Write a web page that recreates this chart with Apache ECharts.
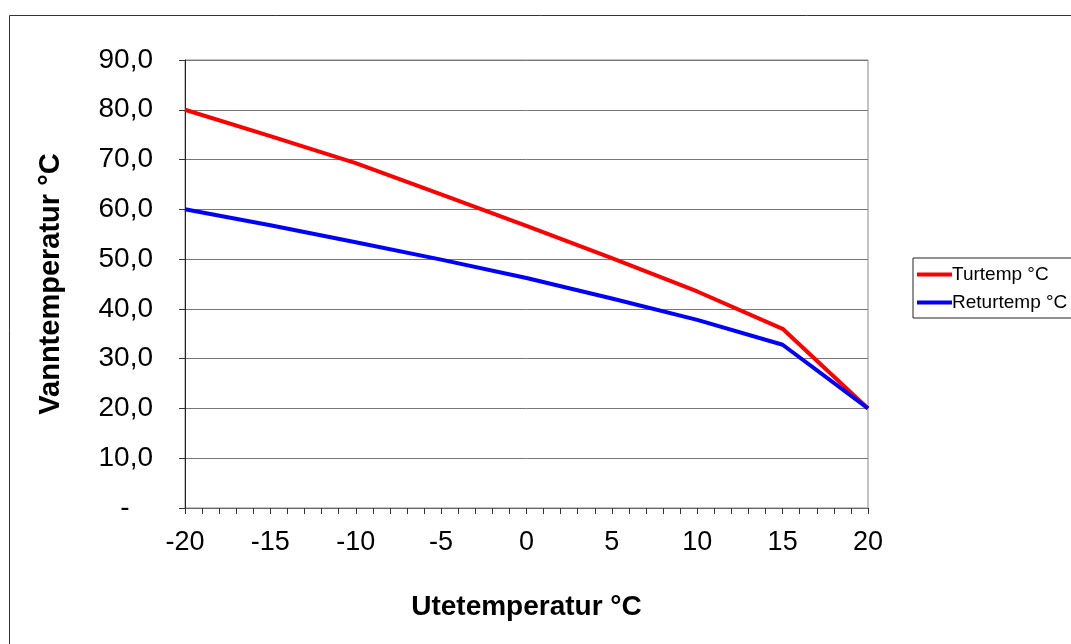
<!DOCTYPE html>
<html>
<head>
<meta charset="utf-8">
<script src="https://cdn.jsdelivr.net/npm/echarts@6/dist/echarts.min.js"></script>
<style>html,body{margin:0;padding:0;background:#fff}#c{width:1071px;height:644px}</style>
</head>
<body>
<div id="c"></div>
<script>
const uteTemp = [-20, -15, -10, -5, 0, 5, 10, 15, 20];
const turTemp = [80, 74.7, 69.3, 63.0, 56.7, 50.2, 43.5, 36.0, 20];
const returTemp = [60, 56.8, 53.4, 49.9, 46.2, 42.1, 37.8, 32.8, 20];
const seriesNames = ['Turtemp °C', 'Returtemp °C'];
const xTitle = 'Utetemperatur °C';
const yTitle = 'Vanntemperatur °C';

const chart = echarts.init(document.getElementById('c'), null, {renderer: 'canvas'});
const font = 'Liberation Sans, Arial, sans-serif';
chart.setOption({
  animation: false,
  backgroundColor: '#fff',
  graphic: [{
    type: 'rect', shape: {x: 9.5, y: 15.5, width: 1100, height: 700},
    style: {fill: 'none', stroke: '#333', lineWidth: 1}, silent: true, z: -1
  }],
  grid: {left: 185, right: 203, top: 60, bottom: 136, show: true, borderColor: '#888', borderWidth: 1, containLabel: false},
  legend: {
    data: seriesNames, orient: 'vertical', left: 913, top: 258,
    borderColor: '#222', borderWidth: 1, padding: [7, 30, 6, 4],
    itemWidth: 35, itemHeight: 4, itemGap: 9, icon: 'rect',
    textStyle: {fontFamily: font, fontSize: 19, color: '#000', padding: [0, 0, 0, -5]}
  },
  xAxis: {
    type: 'value', min: -20, max: 20, interval: 5,
    name: xTitle, nameLocation: 'middle', nameGap: 85,
    nameTextStyle: {fontFamily: font, fontSize: 28, fontWeight: 'bold', color: '#000'},
    axisLine: {show: true, onZero: false, lineStyle: {color: '#666', width: 1}},
    axisTick: {show: true, length: 6, lineStyle: {color: '#333'}},
    minorTick: {show: true, splitNumber: 5, length: 6, lineStyle: {color: '#333'}},
    axisLabel: {fontFamily: font, fontSize: 27, color: '#000', margin: 21},
    splitLine: {show: false}
  },
  yAxis: {
    type: 'value', min: 0, max: 90, interval: 10,
    name: yTitle, nameLocation: 'middle', nameGap: 120,
    nameTextStyle: {fontFamily: font, fontSize: 29, fontWeight: 'bold', color: '#000'},
    axisLine: {show: true, onZero: false, lineStyle: {color: '#222', width: 1}},
    axisTick: {show: true, length: 6, lineStyle: {color: '#333'}},
    axisLabel: {fontFamily: font, fontSize: 28, color: '#000', margin: 32,
      formatter: v => v === 0 ? '-   ' : v.toFixed(1).replace('.', ',')},
    splitLine: {show: true, lineStyle: {color: '#777', width: 1}}
  },
  series: [
    {name: seriesNames[0], type: 'line', data: uteTemp.map((x, i) => [x, turTemp[i]]),
     showSymbol: false, symbol: 'none', lineStyle: {color: '#ff0000', width: 4}, itemStyle: {color: '#ff0000'}},
    {name: seriesNames[1], type: 'line', data: uteTemp.map((x, i) => [x, returTemp[i]]),
     showSymbol: false, symbol: 'none', lineStyle: {color: '#0000ff', width: 4}, itemStyle: {color: '#0000ff'}}
  ]
});
</script>
</body>
</html>
